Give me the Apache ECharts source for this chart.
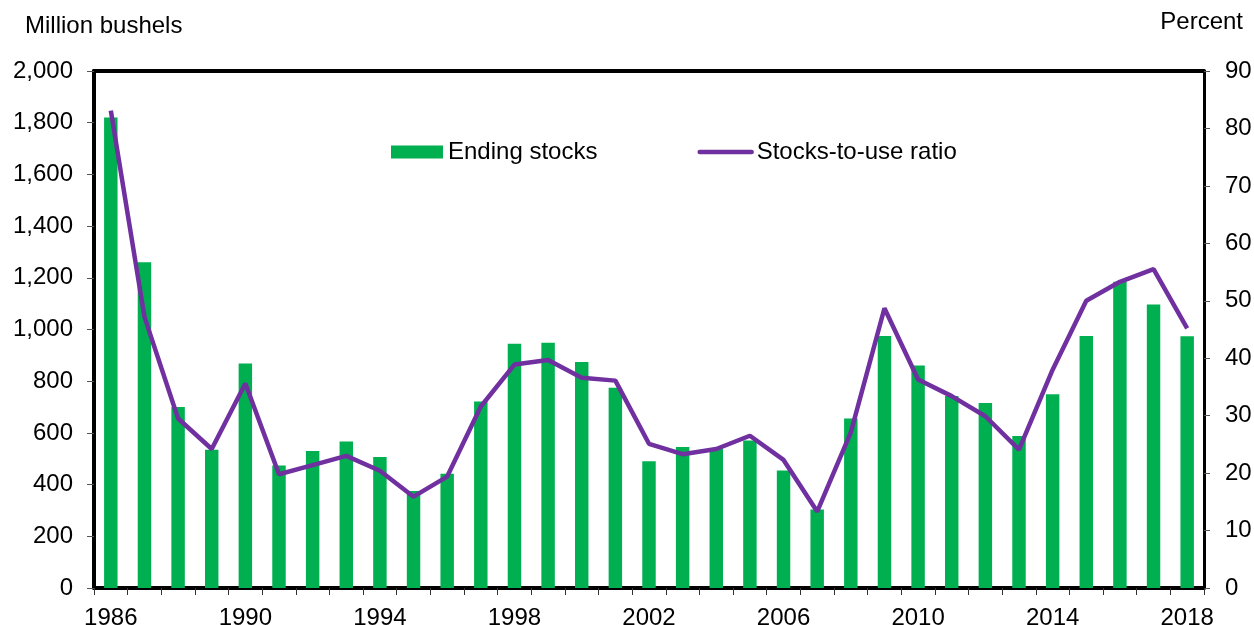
<!DOCTYPE html>
<html>
<head>
<meta charset="utf-8">
<script src="https://cdn.jsdelivr.net/npm/echarts@6/dist/echarts.min.js"></script>
<style>
  html, body { margin: 0; padding: 0; background: #fff; }
  #main { width: 1254px; height: 625px; }
</style>
</head>
<body>
<div id="main"></div>
<script>
// years on the x axis
var years = ['1986', '1987', '1988', '1989', '1990', '1991', '1992', '1993', '1994', '1995',
  '1996', '1997', '1998', '1999', '2000', '2001', '2002', '2003', '2004', '2005',
  '2006', '2007', '2008', '2009', '2010', '2011', '2012', '2013', '2014', '2015',
  '2016', '2017', '2018'];
// ending stocks, million bushels
var endingStocks = [1820, 1260, 700, 535, 868, 474, 530, 567, 507, 375,
  442, 721, 945, 949, 874, 775, 490, 545, 540, 571,
  455, 304, 656, 975, 861, 743, 716, 588, 750, 975,
  1185, 1097, 974];
// stocks-to-use ratio, percent
var stocksToUse = [83.1, 47.2, 29.5, 24.2, 35.6, 19.8, 21.4, 23.0, 20.4, 15.9,
  19.4, 31.6, 38.9, 39.7, 36.6, 36.1, 25.1, 23.3, 24.2, 26.5,
  22.3, 13.3, 27.1, 48.7, 36.3, 33.4, 29.9, 24.1, 38.0, 50.0,
  53.3, 55.5, 45.2];

var font = 'Liberation Sans, Arial, sans-serif';
var fs = 24;
var green = '#00B050';
var purple = '#7030A0';

var myChart = echarts.init(document.getElementById('main'));
var option = {
  animation: false,
  textStyle: { fontFamily: font },
  grid: { left: 94, right: 50, top: 71, bottom: 37, containLabel: false, outerBoundsMode: 'none' },
  legend: {
    left: 386,
    top: 135,
    itemWidth: 52,
    itemHeight: 13,
    itemGap: 100,
    textStyle: { fontFamily: font, fontSize: fs, color: '#000' },
    data: [
      { name: 'Ending stocks', icon: 'rect' },
      { name: 'Stocks-to-use ratio', itemStyle: { opacity: 0 }, lineStyle: { width: 4.5, cap: 'round' } }
    ]
  },
  graphic: [
    { type: 'text', left: 25, top: 14, style: { text: 'Million bushels', font: fs + 'px ' + font, fill: '#000' } },
    { type: 'text', right: 11, top: 10, style: { text: 'Percent', font: fs + 'px ' + font, fill: '#000' } }
  ],
  xAxis: [
    {
      type: 'category',
      data: years,
      boundaryGap: true,
      axisLine: { lineStyle: { color: '#000', width: 4 } },
      axisTick: { show: true, interval: 0, length: 7, lineStyle: { color: '#333', width: 1 } },
      axisLabel: { interval: 3, margin: 18, fontSize: fs, color: '#000', fontFamily: font },
      splitLine: { show: false }
    },
    {
      type: 'category',
      data: years,
      position: 'top',
      axisLine: { onZero: false, lineStyle: { color: '#000', width: 4 } },
      axisTick: { show: false },
      axisLabel: { show: false }
    }
  ],
  yAxis: [
    {
      type: 'value',
      min: 0,
      max: 2000,
      interval: 200,
      axisLine: { show: true, lineStyle: { color: '#000', width: 4 } },
      axisTick: { show: true, length: 7, lineStyle: { color: '#555', width: 1 } },
      axisLabel: {
        margin: 21, fontSize: fs, color: '#000', fontFamily: font,
        formatter: function (v) { return v.toLocaleString('en-US'); }
      },
      splitLine: { show: false }
    },
    {
      type: 'value',
      min: 0,
      max: 90,
      interval: 10,
      position: 'right',
      axisLine: { show: true, lineStyle: { color: '#000', width: 3 } },
      axisTick: { show: true, length: 6, lineStyle: { color: '#555', width: 1 } },
      axisLabel: { margin: 21, fontSize: fs, color: '#000', fontFamily: font },
      splitLine: { show: false }
    }
  ],
  series: [
    {
      name: 'Ending stocks',
      type: 'bar',
      data: endingStocks,
      barWidth: '40%',
      itemStyle: { color: green },
      z: 2
    },
    {
      name: 'Stocks-to-use ratio',
      type: 'line',
      yAxisIndex: 1,
      data: stocksToUse,
      symbol: 'none',
      lineStyle: { color: purple, width: 4.5 },
      itemStyle: { color: purple },
      z: 3
    }
  ]
};
myChart.setOption(option);
</script>
</body>
</html>
